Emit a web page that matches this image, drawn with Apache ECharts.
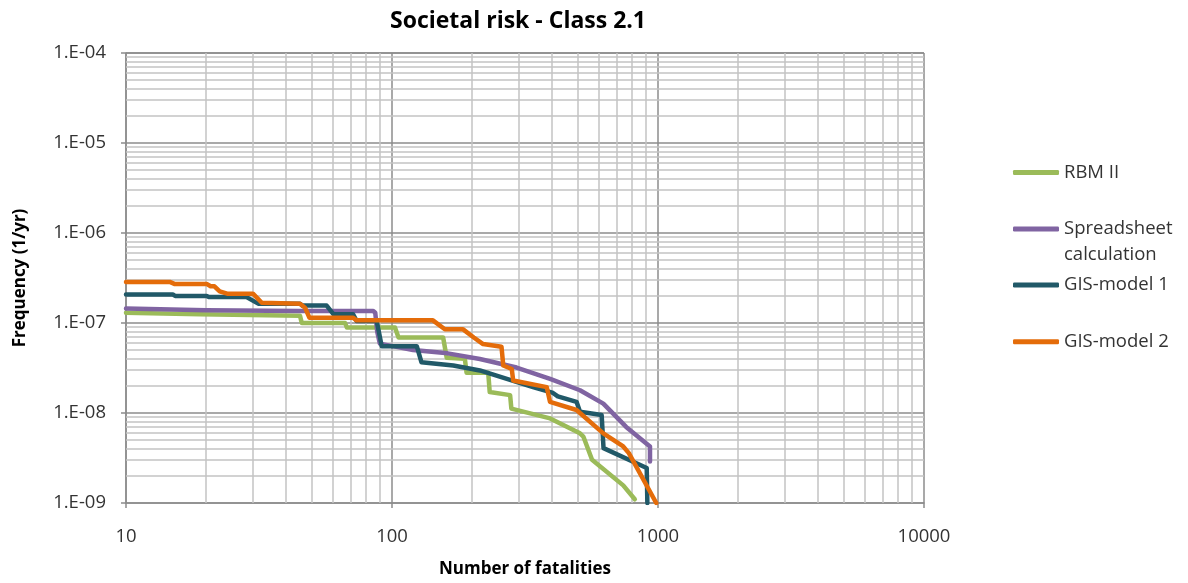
<!DOCTYPE html>
<html>
<head>
<meta charset="utf-8">
<script src="https://cdn.jsdelivr.net/npm/echarts@6/dist/echarts.min.js"></script>
<style>
  html, body { margin: 0; padding: 0; background: #ffffff; }
  #chart { width: 1188px; height: 583px; }
</style>
</head>
<body>
<div id="chart"></div>
<script>
// F-N curves: [number of fatalities, frequency (1/yr)]
const rbmII = [
  [10, 1.30e-7], [19, 1.25e-7], [45.1, 1.20e-7], [45.8, 1.00e-7], [66.6, 1.00e-7],
  [67.7, 8.9e-8], [102.6, 8.9e-8], [105.8, 6.9e-8], [155.7, 6.9e-8], [160.6, 4.1e-8],
  [187.9, 4.0e-8], [190.7, 2.8e-8], [230, 2.8e-8], [233, 1.71e-8], [278, 1.58e-8],
  [281, 1.12e-8], [393, 8.7e-9], [509, 5.94e-9], [524, 5.47e-9], [565, 3.03e-9],
  [740, 1.57e-9], [818, 1.10e-9]
];
const spreadsheet = [
  [10, 1.45e-7], [20, 1.39e-7], [45, 1.36e-7], [85, 1.36e-7], [86.5, 1.30e-7],
  [88, 8.0e-8], [90, 5.9e-8], [120, 5.0e-8], [162, 4.6e-8], [214, 3.98e-8],
  [294, 3.2e-8], [393, 2.4e-8], [509, 1.79e-8], [623, 1.27e-8], [759, 7.0e-9],
  [933, 4.25e-9], [933, 2.9e-9]
];
const gisModel1 = [
  [10, 2.07e-7], [15, 2.07e-7], [15.3, 2.0e-7], [20.1, 2.0e-7], [20.5, 1.94e-7],
  [28.4, 1.94e-7], [31.4, 1.64e-7], [45.1, 1.64e-7], [46, 1.56e-7], [56.8, 1.56e-7],
  [60.3, 1.25e-7], [71.4, 1.25e-7], [73.6, 1.055e-7], [87.6, 1.055e-7], [91.5, 5.5e-8],
  [124, 5.5e-8], [129, 3.67e-8], [170, 3.37e-8], [214, 2.97e-8], [339, 1.94e-8],
  [403, 1.67e-8], [420, 1.53e-8], [494, 1.33e-8], [509, 1.03e-8], [614, 9.5e-9],
  [624, 4.07e-9], [907, 2.45e-9], [912, 1.0e-9]
];
const gisModel2 = [
  [10, 2.86e-7], [14.6, 2.86e-7], [15.2, 2.72e-7], [20.1, 2.72e-7], [20.8, 2.56e-7],
  [21.5, 2.56e-7], [22.5, 2.25e-7], [24, 2.12e-7], [30, 2.12e-7], [32.4, 1.68e-7],
  [45.1, 1.64e-7], [47.1, 1.48e-7], [48.9, 1.147e-7], [71.3, 1.147e-7], [73.6, 1.07e-7],
  [142.5, 1.07e-7], [158, 8.53e-8], [185, 8.5e-8], [203, 6.9e-8], [220, 5.83e-8],
  [258, 5.45e-8], [262, 3.37e-8], [282, 3.08e-8], [285.5, 2.30e-8], [381.6, 1.94e-8],
  [392.6, 1.33e-8], [494, 1.08e-8], [623, 5.94e-9], [740, 4.25e-9], [777, 3.58e-9],
  [985, 1.0e-9]
];

const seriesNames = ['RBM II', 'Spreadsheet calculation', 'GIS-model 1', 'GIS-model 2'];
const legendLabels = ['RBM II', '\nSpreadsheet\ncalculation', 'GIS-model 1', 'GIS-model 2'];
const seriesColors = ['#9BBB59', '#8064A2', '#215968', '#E46C0A'];
const seriesData = [rbmII, spreadsheet, gisModel1, gisModel2];

const xRange = [10, 10000];
const yRange = [1e-9, 1e-4];

const FONT = 'Open Sans';
const TEXT = '#333333';
const MAJOR = '#8c8c8c';
const MINOR = '#c3c3c3';

// minor grid values at 2..9 of every decade
const minorX = [];
for (let d = xRange[0]; d < xRange[1]; d *= 10) for (let m = 2; m <= 9; m++) minorX.push(m * d);
const minorY = [];
for (let e = -9; e < -4; e++) for (let m = 2; m <= 9; m++) minorY.push(Number((m * Math.pow(10, e)).toPrecision(3)));

function sciLabel(v) {
  const e = Math.round(Math.log10(v));
  const a = Math.abs(e);
  return '1.E' + (e < 0 ? '-' : '+') + (a < 10 ? '0' + a : a);
}
function plainLabel(v) {
  return String(Math.round(v));
}

const legendTops = [160.5, 190, 273, 329.7];
const legends = seriesNames.map((name, i) => ({
  data: [name],
  orient: 'vertical',
  left: 1013,
  top: legendTops[i],
  padding: 0,
  icon: 'roundRect',
  itemWidth: 46,
  itemHeight: 5,
  selectedMode: false,
  formatter: () => legendLabels[i],
  textStyle: { fontFamily: FONT, fontSize: 18.5, color: TEXT, lineHeight: i === 1 ? 26 : 24 }
}));

const series = seriesData.map((d, i) => ({
  name: seriesNames[i],
  type: 'line',
  data: d,
  symbol: 'none',
  color: seriesColors[i],
  lineStyle: { width: 4.5, color: seriesColors[i], cap: 'round', join: 'round' },
  emphasis: { disabled: true },
  z: 3 + i
}));

// minor gridlines, kept beneath the curves
series.unshift({
  name: 'minor-grid',
  type: 'line',
  data: [],
  silent: true,
  z: 1,
  markLine: {
    z: 1,
    silent: true,
    animation: false,
    symbol: ['none', 'none'],
    label: { show: false },
    emphasis: { disabled: true },
    lineStyle: { color: MINOR, width: 1.5, type: 'solid' },
    data: minorX.map(v => [{ coord: [v, yRange[0]] }, { coord: [v, yRange[1]] }])
      .concat(minorY.map(v => [{ coord: [xRange[0], v] }, { coord: [xRange[1], v] }]))
  }
});

const axisCommon = {
  type: 'log',
  logBase: 10,
  axisLine: { show: true, onZero: false, lineStyle: { color: MAJOR, width: 1.5 } },
  axisTick: { show: true, length: 5, inside: false, lineStyle: { color: MAJOR, width: 1.5 } },
  splitLine: { show: true, lineStyle: { color: MAJOR, width: 1.5 } },
  nameLocation: 'middle',
  nameTextStyle: { fontFamily: FONT, fontSize: 17, fontWeight: 'bold', color: '#000' }
};

const option = {
  animation: false,
  backgroundColor: '#ffffff',
  title: {
    text: 'Societal risk - Class 2.1',
    left: 385,
    top: 5,
    textStyle: { fontFamily: FONT, fontSize: 23, fontWeight: 'bold', color: '#000' }
  },
  legend: legends,
  grid: { left: 126, right: 264, top: 53, bottom: 76 },
  xAxis: Object.assign({}, axisCommon, {
    min: xRange[0],
    max: xRange[1],
    name: 'Number of fatalities',
    nameGap: 58,
    axisLabel: { margin: 24, fontFamily: FONT, fontSize: 18.5, color: TEXT, formatter: plainLabel }
  }),
  yAxis: Object.assign({}, axisCommon, {
    min: yRange[0],
    max: yRange[1],
    name: 'Frequency (1/yr)',
    nameGap: 97,
    nameRotate: 90,
    axisLabel: { margin: 20, fontFamily: FONT, fontSize: 18.5, color: TEXT, formatter: sciLabel }
  }),
  series: series
};

const chart = echarts.init(document.getElementById('chart'), null, { renderer: 'canvas' });
chart.setOption(option);
</script>
</body>
</html>
